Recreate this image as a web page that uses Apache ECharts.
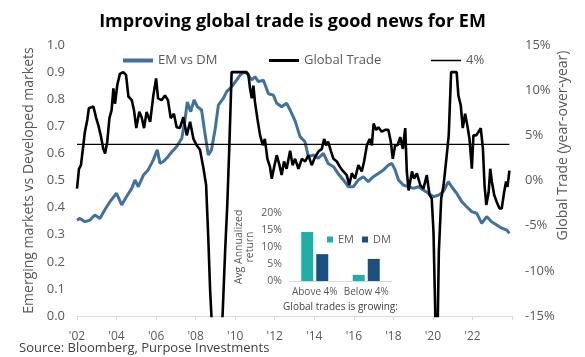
<!DOCTYPE html>
<html><head><meta charset="utf-8">
<script src="https://cdn.jsdelivr.net/npm/echarts/dist/echarts.min.js"></script>
<style>html,body{margin:0;padding:0;background:#fff}#c{width:585px;height:357px}</style>
</head><body><div id="c"></div>
<script>
// EM vs DM relative performance (left axis)
const emYears=[2002.0,2002.15,2002.4,2002.66,2002.9,2003.16,2003.4,2003.67,2004.0,2004.26,2004.5,2004.77,2004.93,2005.1,2005.36,2005.6,2005.86,2006.06,2006.2,2006.37,2006.6,2006.8,2007.04,2007.3,2007.46,2007.58,2007.75,2007.92,2008.09,2008.3,2008.47,2008.64,2008.8,2008.98,2009.15,2009.4,2009.57,2009.82,2010.08,2010.25,2010.45,2010.6,2010.84,2011.0,2011.17,2011.43,2011.68,2011.93,2012.1,2012.35,2012.6,2012.78,2013.03,2013.28,2013.53,2013.7,2013.96,2014.2,2014.46,2014.7,2014.97,2015.2,2015.47,2015.72,2015.98,2016.23,2016.48,2016.73,2016.99,2017.24,2017.5,2017.75,2017.92,2018.09,2018.26,2018.5,2018.77,2019.02,2019.27,2019.52,2019.77,2020.03,2020.28,2020.53,2020.78,2020.95,2021.2,2021.46,2021.71,2021.96,2022.22,2022.47,2022.72,2022.97,2023.23,2023.48,2023.74,2023.87];
const emValues=[0.354,0.36,0.348,0.354,0.373,0.36,0.391,0.422,0.453,0.41,0.44,0.471,0.502,0.477,0.52,0.539,0.576,0.613,0.563,0.57,0.588,0.606,0.625,0.656,0.723,0.79,0.754,0.797,0.772,0.76,0.674,0.594,0.613,0.686,0.778,0.803,0.828,0.846,0.871,0.889,0.9,0.895,0.871,0.883,0.865,0.87,0.82,0.815,0.785,0.772,0.785,0.76,0.72,0.662,0.643,0.588,0.594,0.582,0.6,0.563,0.551,0.526,0.502,0.477,0.477,0.502,0.514,0.496,0.514,0.526,0.539,0.557,0.563,0.539,0.502,0.483,0.477,0.471,0.477,0.465,0.453,0.44,0.446,0.459,0.496,0.477,0.453,0.422,0.403,0.385,0.379,0.342,0.367,0.348,0.336,0.324,0.317,0.305];
// Global trade, year-over-year % (right axis)
const tradeYears=[2002.0,2002.1,2002.2,2002.32,2002.4,2002.52,2002.6,2002.83,2002.96,2003.08,2003.2,2003.33,2003.42,2003.53,2003.64,2003.75,2003.84,2003.92,2004.04,2004.17,2004.34,2004.48,2004.6,2004.77,2004.88,2005.0,2005.15,2005.27,2005.39,2005.52,2005.7,2005.86,2006.0,2006.1,2006.28,2006.45,2006.6,2006.74,2006.9,2007.04,2007.2,2007.38,2007.55,2007.72,2007.89,2008.05,2008.22,2008.4,2008.53,2008.64,2008.73,2008.81,2008.9,2009.15,2009.3,2009.37,2009.49,2009.6,2009.7,2009.82,2010.0,2010.58,2010.67,2010.75,2010.84,2010.92,2011.0,2011.12,2011.26,2011.4,2011.5,2011.63,2011.76,2011.85,2011.97,2012.1,2012.24,2012.35,2012.47,2012.6,2012.78,2012.9,2013.03,2013.2,2013.37,2013.54,2013.7,2013.87,2014.04,2014.21,2014.38,2014.5,2014.6,2014.7,2014.85,2014.97,2015.14,2015.3,2015.47,2015.64,2015.77,2015.9,2016.06,2016.23,2016.4,2016.52,2016.66,2016.8,2016.91,2017.0,2017.13,2017.24,2017.41,2017.58,2017.75,2017.87,2017.97,2018.09,2018.21,2018.35,2018.48,2018.6,2018.68,2018.77,2018.94,2019.05,2019.19,2019.36,2019.52,2019.69,2019.83,2019.94,2020.03,2020.11,2020.16,2020.22,2020.3,2020.42,2020.54,2020.68,2020.8,2020.92,2021.2,2021.29,2021.41,2021.51,2021.63,2021.74,2021.85,2021.97,2022.05,2022.19,2022.31,2022.42,2022.53,2022.61,2022.7,2022.82,2022.9,2022.98,2023.1,2023.23,2023.37,2023.48,2023.6,2023.7,2023.77,2023.87];
const tradeValues=[-0.9,1.3,1.7,3.9,5.4,6.7,8.0,8.2,7.0,6.1,5.0,3.5,3.0,4.3,6.9,7.8,10.2,8.5,10.6,11.8,12.0,11.7,9.3,8.9,7.8,5.8,7.6,7.0,5.8,7.6,6.5,9.4,11.3,9.1,8.9,9.4,8.9,6.9,7.4,5.9,5.8,7.0,5.0,6.5,4.6,3.9,3.4,1.3,-0.5,-6.4,-12.0,-15.5,-20,-22,-18,-14.5,-7.9,-2.7,3.5,12,12,12,11.7,10.2,9.1,10.5,8.7,6.9,5.0,3.9,4.6,2.4,1.5,0.2,1.5,2.8,1.7,0.6,2.1,1.3,3.3,1.7,2.4,1.3,2.4,2.1,2.8,1.7,2.6,3.2,3.5,4.6,3.9,4.3,3.2,2.4,2.1,1.5,1.0,0.6,-0.5,0.8,0.2,1.7,1.0,2.1,3.9,4.6,3.9,6.3,5.6,5.9,5.4,5.6,5.6,4.3,2.4,3.9,3.9,4.8,3.5,5.8,1.0,-1.1,1.0,0.2,0.8,-0.5,-0.9,0.6,-1.6,-2.0,-5.7,-13.8,-20,-19,-7.9,-2.0,-0.5,2.4,5.0,12,12,9.4,8.3,5.8,7.4,6.1,4.6,1.3,5.0,5.0,5.4,5.8,3.5,-0.5,-2.7,-1.3,1.3,-0.1,-1.6,-2.4,-3.1,-3.1,-1.3,-0.1,-0.7,1.1];
// 4% threshold line
const thresholdYears=[2002.0,2023.87];
const thresholdValues=[4,4];
// Inset: average annualized return
const insetCategories=['Above 4%','Below 4%'];
const insetEM=[14.4,1.8];
const insetDM=[7.9,6.5];

const FONT='"Open Sans", sans-serif';
const GRAY='#595959';
const pair=(xs,ys)=>xs.map((x,i)=>[x,ys[i]]);

const chart=echarts.init(document.getElementById('c'),null,{renderer:'canvas'});
chart.setOption({
  animation:false,
  textStyle:{fontFamily:FONT},
  title:[
    {text:'Improving global trade is good news for EM',left:'center',top:8,
     textStyle:{fontFamily:FONT,fontSize:18,fontWeight:'bold',color:'#000'}},
    {text:'Source: Bloomberg, Purpose Investments',left:14,top:337,
     textStyle:{fontFamily:FONT,fontSize:13,fontWeight:'normal',color:'#404040'}}
  ],
  legend:[
    {left:118,top:49,icon:'rect',itemWidth:30,itemHeight:4,data:['EM vs DM'],textStyle:{fontFamily:FONT,fontSize:13,color:GRAY}},
    {left:264,top:49,icon:'rect',itemWidth:30,itemHeight:3,data:['Global Trade'],textStyle:{fontFamily:FONT,fontSize:13,color:GRAY}},
    {left:426,top:49,icon:'rect',itemWidth:30,itemHeight:1.5,data:['4%'],textStyle:{fontFamily:FONT,fontSize:13,color:GRAY}},
    {left:322,top:229,icon:'rect',itemWidth:6,itemHeight:6,itemGap:8,data:['EM','DM'],textStyle:{fontFamily:FONT,fontSize:11,color:GRAY}}
  ],
  grid:[
    {left:77,right:73,top:45,bottom:41},
    {left:289,width:103,top:213,height:68}
  ],
  xAxis:[
    {type:'value',gridIndex:0,min:2002,max:2024,interval:2,
     axisLine:{lineStyle:{color:'#D9D9D9'}},axisTick:{show:true,length:4,lineStyle:{color:'#D9D9D9'}},
     splitLine:{show:false},
     axisLabel:{fontFamily:FONT,fontSize:12,color:GRAY,margin:15,
       formatter:v=>v<2024?"'"+String(v).slice(2):''}},
    {type:'category',gridIndex:1,data:insetCategories,
     axisLine:{lineStyle:{color:'#D9D9D9'}},axisTick:{show:false},
     axisLabel:{fontFamily:FONT,fontSize:10,color:GRAY,margin:6,interval:0,hideOverlap:false},
     name:'Global trades is growing:',nameLocation:'middle',nameGap:21,nameMoveOverlap:false,
     nameTextStyle:{fontFamily:FONT,fontSize:10,color:'#404040'}}
  ],
  yAxis:[
    {type:'value',gridIndex:0,min:0,max:1,interval:0.1,position:'left',
     axisLine:{show:false},axisTick:{show:false},splitLine:{show:false},
     axisLabel:{fontFamily:FONT,fontSize:13,color:GRAY,margin:12,formatter:v=>v.toFixed(1)},
     name:'Emerging markets vs Developed markets',nameLocation:'middle',nameRotate:90,nameGap:41,nameMoveOverlap:false,
     nameTextStyle:{fontFamily:FONT,fontSize:14,color:GRAY}},
    {type:'value',gridIndex:0,min:-15,max:15,interval:5,position:'right',
     axisLine:{show:false},axisTick:{show:false},splitLine:{show:false},
     axisLabel:{fontFamily:FONT,fontSize:13,color:GRAY,margin:13,formatter:v=>v+'%'},
     name:'Global Trade (year-over-year)',nameLocation:'middle',nameRotate:90,nameGap:44,nameMoveOverlap:false,
     nameTextStyle:{fontFamily:FONT,fontSize:14,color:GRAY,padding:[0,0,0,70]}},
    {type:'value',gridIndex:1,min:0,max:20,interval:5,
     axisLine:{show:false},axisTick:{show:false},splitLine:{show:false},
     axisLabel:{fontFamily:FONT,fontSize:10.5,color:GRAY,margin:7,formatter:'{value}%'},
     name:'Avg Annualized\nreturn',nameLocation:'middle',nameRotate:90,nameGap:33,nameMoveOverlap:false,
     nameTextStyle:{fontFamily:FONT,fontSize:10.5,color:GRAY,lineHeight:11}}
  ],
  series:[
    {name:'EM vs DM',type:'line',xAxisIndex:0,yAxisIndex:0,data:pair(emYears,emValues),
     showSymbol:false,symbol:'none',color:'#41719C',itemStyle:{color:'#41719C'},
     lineStyle:{color:'#41719C',width:3},clip:true,z:2},
    {name:'Global Trade',type:'line',xAxisIndex:0,yAxisIndex:1,data:pair(tradeYears,tradeValues),
     showSymbol:false,symbol:'none',color:'#000',itemStyle:{color:'#000'},
     lineStyle:{color:'#000',width:2.6},clip:true,z:3},
    {name:'4%',type:'line',xAxisIndex:0,yAxisIndex:1,data:pair(thresholdYears,thresholdValues),
     showSymbol:false,symbol:'none',color:'#000',itemStyle:{color:'#000'},
     lineStyle:{color:'#000',width:1.2},z:4},
    {name:'EM',type:'bar',xAxisIndex:1,yAxisIndex:2,data:insetEM,barWidth:12,barGap:'25%',
     itemStyle:{color:'#1FAFA8'}},
    {name:'DM',type:'bar',xAxisIndex:1,yAxisIndex:2,data:insetDM,barWidth:12,barGap:'25%',
     itemStyle:{color:'#1B4F7E'}}
  ]
});
</script>
</body></html>
